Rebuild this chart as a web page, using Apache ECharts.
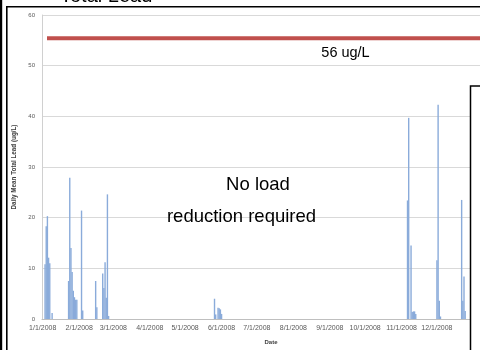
<!DOCTYPE html>
<html>
<head>
<meta charset="utf-8">
<script src="https://cdn.jsdelivr.net/npm/echarts@6/dist/echarts.min.js"></script>
<style>
html,body{margin:0;padding:0;background:#fff;}
#main{width:480px;height:350px;}
</style>
</head>
<body>
<div id="main"></div>
<script>
// ---- data ----
var dates = ['2008-01-03','2008-01-04','2008-01-05','2008-01-06','2008-01-07','2008-01-09',
  '2008-01-23','2008-01-24','2008-01-25','2008-01-26','2008-01-27','2008-01-28','2008-01-29','2008-01-30',
  '2008-02-03','2008-02-04',
  '2008-02-15','2008-02-16','2008-02-21','2008-02-22','2008-02-23','2008-02-24','2008-02-25','2008-02-26',
  '2008-05-26','2008-05-27','2008-05-29','2008-05-30','2008-05-31','2008-06-01',
  '2008-11-06','2008-11-07','2008-11-09','2008-11-10','2008-11-11','2008-11-12','2008-11-13',
  '2008-12-01','2008-12-02','2008-12-03','2008-12-04',
  '2008-12-22','2008-12-23','2008-12-24','2008-12-25'];
var leadValues = [10.8,18.3,20.3,12.1,11.0,1.2,
  7.5,27.9,14.0,9.3,5.6,4.3,3.8,3.8,
  21.4,1.7,
  7.5,2.3,9.0,6.1,11.2,4.2,24.6,0.6,
  4.0,0.9,2.2,2.1,1.9,1.0,
  23.4,39.7,14.5,1.4,1.5,1.5,1.0,
  11.6,42.3,3.6,0.5,
  23.5,3.6,8.4,1.6];
var yTicks = [0,10,20,30,40,50,60];
var limitValue = 55.4;
var limitLabel = '56 ug/L';
var titleText = 'Total Lead';
var noteLines = ['No load', 'reduction required'];
var yName = 'Daily Mean Total Lead (ug/L)';
var xName = 'Date';

var seriesData = dates.map(function(d, i){ return [d, leadValues[i]]; });

var chart = echarts.init(document.getElementById('main'), null, {renderer:'canvas'});
var option = {
  animation: false,
  backgroundColor: '#ffffff',
  grid: {left: 42, right: 0, top: 15, bottom: 27, containLabel: false},
  xAxis: {
    type: 'time',
    min: '2008-01-01',
    max: '2009-01-06',
    splitNumber: 12,
    name: xName,
    nameLocation: 'middle',
    nameGap: 20,
    nameTextStyle: {fontFamily: 'Liberation Sans', fontSize: 6, fontWeight: 'bold', color: '#404040', padding: [0,0,0,20]},
    axisLine: {show: true, lineStyle: {color: '#bfbfbf', width: 1}},
    axisTick: {show: false},
    splitLine: {show: false},
    axisLabel: {
      fontFamily: 'Liberation Sans', fontSize: 7, color: '#595959', margin: 6,
      showMaxLabel: false,
      formatter: function(v){
        var d = new Date(v);
        if (d.getFullYear() > 2008) return '';
        return (d.getMonth()+1) + '/' + d.getDate() + '/' + d.getFullYear();
      },
      rich: {}
    }
  },
  yAxis: {
    type: 'value',
    min: yTicks[0],
    max: yTicks[yTicks.length-1],
    interval: 10,
    name: yName,
    nameLocation: 'middle',
    nameGap: 20,
    nameTextStyle: {fontFamily: 'Liberation Sans', fontSize: 6.3, fontWeight: 'bold', color: '#404040'},
    axisLine: {show: true, lineStyle: {color: '#d0d0d0', width: 1}},
    axisTick: {show: false},
    splitLine: {show: true, lineStyle: {color: '#d9d9d9', width: 1}},
    axisLabel: {fontFamily: 'Liberation Sans', fontSize: 6, color: '#595959', margin: 7}
  },
  series: [{
    type: 'bar',
    data: seriesData,
    barWidth: 1.4,
    itemStyle: {color: '#8aabda'},
    z: 3
  }]
};
chart.setOption(option);

var yLimit = chart.convertToPixel({yAxisIndex: 0}, limitValue);
chart.setOption({
  graphic: [
    {type: 'rect', z: 100, shape: {x: 47, y: yLimit - 2, width: 440, height: 4}, style: {fill: '#c0504d'}},
    {type: 'text', z: 100, x: 345.5, y: yLimit + 15, style: {text: limitLabel, fontFamily: 'Liberation Sans', fontSize: 14.5, fill: '#000', align: 'center', verticalAlign: 'middle'}},
    {type: 'text', z: 100, x: 258, y: 185, style: {text: noteLines[0], fontFamily: 'Liberation Sans', fontSize: 18.5, fill: '#000', align: 'center', verticalAlign: 'middle'}},
    {type: 'text', z: 100, x: 241.5, y: 217, style: {text: noteLines[1], fontFamily: 'Liberation Sans', fontSize: 18.5, fill: '#000', align: 'center', verticalAlign: 'middle'}},
    {type: 'rect', z: 100, shape: {x: 470.5, y: 86, width: 30, height: 300}, style: {fill: '#fff', stroke: '#000', lineWidth: 1.5}},
    {type: 'rect', z: 100, shape: {x: 0, y: 0, width: 2.2, height: 350}, style: {fill: '#000'}},
    {type: 'rect', z: 100, shape: {x: 6, y: 6, width: 1.6, height: 350}, style: {fill: '#000'}},
    {type: 'rect', z: 100, shape: {x: 6, y: 6, width: 480, height: 1.6}, style: {fill: '#000'}},
    {type: 'text', z: 100, x: 60, y: -14, style: {text: titleText, fontFamily: 'Liberation Sans', fontSize: 20, fill: '#000', align: 'left', verticalAlign: 'top'}}
  ]
});
</script>
</body>
</html>
